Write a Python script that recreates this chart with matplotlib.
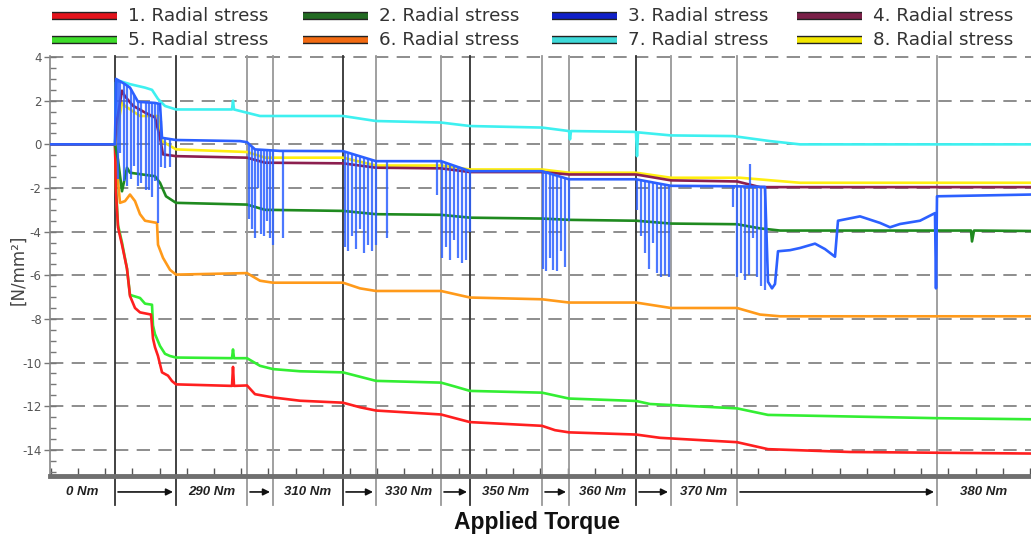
import numpy as np
import matplotlib
matplotlib.use("Agg")
import matplotlib.pyplot as plt
import matplotlib.patheffects as pe
from matplotlib.lines import Line2D
from matplotlib.ticker import MultipleLocator
from matplotlib.transforms import blended_transform_factory

plt.rcParams["axes.unicode_minus"] = False

# time axis (samples)
t_red = [0, 65, 66, 68, 72, 77, 80, 85, 90, 101, 103, 105, 108, 112, 118, 122, 126, 182, 183, 184,
         197, 205, 223, 250, 293, 310, 326, 391, 405, 420, 492, 505, 519, 586, 610, 687, 718, 800, 981]
v_red = [0, 0, -2.2, -3.8, -4.6, -5.7, -6.95, -7.5, -7.7, -7.8, -8.9, -9.3, -9.7, -10.45, -10.6, -10.85,
         -11.0, -11.07, -10.2, -11.07, -11.05, -11.45, -11.6, -11.75, -11.84, -12.05, -12.2, -12.38,
         -12.55, -12.73, -12.9, -13.1, -13.2, -13.3, -13.45, -13.65, -13.97, -14.1, -14.17]

t_green = [0, 65, 66, 68, 72, 77, 80, 90, 95, 102, 103, 105, 110, 115, 120, 126, 182, 183, 184, 197,
           210, 223, 250, 293, 326, 391, 405, 420, 492, 519, 586, 600, 687, 718, 887, 981]
v_green = [0, 0, -2.0, -3.7, -4.5, -5.7, -6.9, -7.04, -7.3, -7.35, -8.3, -8.7, -9.24, -9.6, -9.7, -9.77,
           -9.8, -9.4, -9.8, -9.8, -10.15, -10.3, -10.4, -10.45, -10.84, -10.92, -11.1, -11.3, -11.38,
           -11.65, -11.76, -11.9, -12.1, -12.4, -12.55, -12.6]

t_orange = [0, 65, 67, 70, 75, 80, 85, 90, 95, 107, 108, 113, 120, 126, 197, 210, 223, 293, 310, 326,
            391, 420, 492, 519, 586, 621, 687, 710, 730, 981]
v_orange = [0, 0, -1.15, -2.68, -2.6, -2.3, -2.6, -3.2, -3.5, -3.6, -4.6, -5.2, -5.75, -5.97, -5.9,
            -6.25, -6.34, -6.34, -6.6, -6.72, -6.72, -7.02, -7.1, -7.25, -7.25, -7.5, -7.5, -7.8,
            -7.88, -7.88]

t_dgreen = [0, 65, 68, 72, 77, 80, 105, 110, 116, 126, 197, 215, 293, 326, 391, 420, 492, 519, 586,
            621, 687, 710, 730, 921, 922, 924, 981]
v_dgreen = [0, 0, -0.7, -2.15, -1.07, -1.3, -1.46, -1.76, -2.38, -2.68, -2.76, -3.0, -3.05, -3.2,
            -3.23, -3.36, -3.4, -3.46, -3.5, -3.63, -3.66, -3.85, -3.95, -3.95, -4.45, -3.95, -3.97]

t_cyan = [0, 65, 66, 70, 80, 95, 102, 108, 115, 126, 182, 183, 184, 197, 210, 293, 326, 391, 420,
          492, 519, 520, 521, 586, 587, 588, 621, 683, 720, 750, 981]
v_cyan = [0, 0, 2.84, 2.9, 2.76, 2.6, 2.5, 2.08, 1.76, 1.6, 1.6, 2.0, 1.6, 1.45, 1.3, 1.3, 1.07, 1.0,
          0.84, 0.77, 0.61, 0.23, 0.61, 0.57, -0.54, 0.55, 0.41, 0.38, 0.15, 0.0, 0.0]

t_blue = [0, 65, 66, 75, 80, 88, 105, 110, 112, 126, 190, 197, 205, 230, 293, 326, 391, 420, 492,
          519, 586, 621, 684, 715, 718, 722, 725, 728, 740, 750, 765, 775, 785, 788, 810, 820, 830,
          840, 850, 870, 885, 886, 887, 981]
v_blue = [0, 0, 3.0, 2.76, 2.6, 1.95, 1.9, 1.85, 0.3, 0.2, 0.15, 0.1, -0.23, -0.3, -0.31, -0.77,
          -0.77, -1.23, -1.23, -1.6, -1.6, -1.9, -1.92, -1.95, -6.3, -6.6, -6.4, -4.9, -4.85, -4.75,
          -4.55, -4.8, -5.15, -3.5, -3.3, -3.45, -3.6, -3.8, -3.65, -3.5, -3.15, -6.6, -2.38, -2.3]

t_purple = [0, 65, 66, 72, 75, 83, 95, 105, 110, 113, 126, 197, 215, 293, 326, 391, 420, 492, 519,
            586, 621, 687, 710, 981]
v_purple = [0, 0, 0.84, 2.46, 2.2, 1.77, 1.46, 1.23, 0.3, -0.46, -0.54, -0.61, -0.84, -0.87, -1.07,
            -1.1, -1.27, -1.27, -1.38, -1.38, -1.65, -1.7, -1.96, -1.96]

t_yellow = [0, 65, 68, 72, 75, 90, 108, 112, 126, 197, 215, 293, 326, 391, 420, 492, 519, 586, 621,
            690, 750, 981]
v_yellow = [0, 0, 0.9, 1.9, 1.76, 1.3, 1.3, 0.15, -0.23, -0.35, -0.61, -0.61, -0.97, -0.97, -1.15,
            -1.15, -1.3, -1.3, -1.53, -1.53, -1.76, -1.76]

# blue sensor dropouts (time, lowest value)
spike_t = [68, 70, 74, 77, 81, 84, 88, 91, 96, 99, 102, 105, 108, 111, 115, 120,
           199, 202, 205, 208, 211, 214, 217, 220, 223, 233,
           295, 298, 302, 306, 310, 314, 318, 322, 326, 337,
           387, 392, 396, 400, 404, 408, 412, 416, 420,
           493, 496, 500, 503, 507, 511, 515, 519,
           587, 591, 595, 599, 603, 607, 611, 615, 619,
           683, 687, 691, 695, 699, 700, 703, 707, 711, 715]
spike_v = [-1.6, -0.4, -1.7, -1.9, -1.6, -1.0, -1.9, -1.75, -2.1, -2.07, -2.4, -1.7, -3.6, -1.05, -1.1, -1.05,
           -3.4, -3.9, -4.3, -2.0, -4.1, -4.2, -3.5, -4.3, -4.6, -4.3,
           -4.7, -4.9, -4.2, -4.8, -3.9, -5.0, -4.6, -4.9, -4.6, -4.3,
           -2.3, -5.2, -4.7, -5.3, -4.4, -5.2, -5.45, -5.3, -4.0,
           -5.7, -5.8, -5.2, -5.75, -5.8, -4.9, -5.6, -3.5,
           -3.0, -4.2, -5.0, -5.7, -4.5, -5.9, -6.1, -6.0, -6.1,
           -2.85, -6.1, -5.9, -6.2, -6.0, -0.9, -4.3, -6.1, -6.5, -6.67]

# torque steps
step_edges = [65, 126, 197, 223, 293, 326, 391, 420, 492, 519, 586, 621, 687, 887]
dark_edges = [65, 126, 293, 420, 586]
torque_labels = ["0 Nm", "290 Nm", "310 Nm", "330 Nm", "350 Nm", "360 Nm", "370 Nm", "380 Nm"]

series = [
    ("1. Radial stress", t_red, v_red, "#ff1f1f", "#e3141c"),
    ("2. Radial stress", t_dgreen, v_dgreen, "#1f8a1f", "#226b22"),
    ("3. Radial stress", t_blue, v_blue, "#2c60ff", "#1020c8"),
    ("4. Radial stress", t_purple, v_purple, "#8c1f4f", "#7a2048"),
    ("5. Radial stress", t_green, v_green, "#33ee33", "#3ddc2a"),
    ("6. Radial stress", t_orange, v_orange, "#ff9a1a", "#f26a12"),
    ("7. Radial stress", t_cyan, v_cyan, "#3ef0f0", "#3ed9d9"),
    ("8. Radial stress", t_yellow, v_yellow, "#ffee10", "#f2e600"),
]

fig = plt.figure(figsize=(10.31, 5.39), dpi=100)
ax = fig.add_axes([50 / 1031, 1 - 476 / 539, 981 / 1031, 420 / 539])
ax.set_xlim(0, 981)
ax.set_ylim(-15.2, 4.05)

# grid
for g in range(-14, 5, 2):
    ax.axhline(g, color="#7a7a7a", lw=1.2, linestyle=(0, (8, 5)), zorder=1)

# step separators, extended into the torque band
trans = blended_transform_factory(ax.transData, ax.transAxes)
for e in step_edges:
    col = "#333333" if e in dark_edges else "#999999"
    ax.plot([e, e], [-0.07, 1], color=col, lw=1.3, transform=trans, clip_on=False, zorder=2)

# data lines
draw_order = [5, 4, 0, 1, 6, 7, 3, 2]
for i in draw_order:
    name, t, v, c, _ = series[i]
    ax.plot(t, v, color=c, lw=1.9, zorder=3)

base = np.interp(spike_t, t_blue, v_blue)
ax.vlines(spike_t, base, spike_v, color="#2c60ff", lw=1.6, alpha=0.85, zorder=4)

# torque band labels and arrows
bounds = [0] + step_edges + [981]
for k in range(len(bounds) - 1):
    a, b = bounds[k], bounds[k + 1]
    if k % 2 == 0:
        ax.text((a + b) / 2, -0.038, torque_labels[k // 2], transform=trans, ha="center", va="center",
                fontsize=9.5, fontstyle="italic", fontweight="bold", family="Liberation Sans", color="#222")
    else:
        ax.annotate("", xy=(b - 3, -0.038), xytext=(a + 3, -0.038), xycoords=trans, textcoords=trans,
                    arrowprops=dict(arrowstyle="-|>", color="#111", lw=1.2, mutation_scale=10,
                                    shrinkA=0, shrinkB=0), annotation_clip=False)

# axes styling
for s in ["top", "right"]:
    ax.spines[s].set_visible(False)
ax.spines["left"].set_color("#888888")
ax.spines["left"].set_linewidth(1.2)
ax.spines["bottom"].set_color("#6f6f6f")
ax.spines["bottom"].set_linewidth(3.5)
ax.set_yticks(range(-14, 5, 2))
ax.yaxis.set_minor_locator(MultipleLocator(0.5))
ax.tick_params(axis="y", which="major", direction="inout", length=8, width=1, color="#777",
               labelsize=8.5, labelcolor="#555", pad=2)
ax.tick_params(axis="y", which="minor", direction="in", length=4, width=1, color="#777")
ax.xaxis.set_major_locator(MultipleLocator(27.2, offset=28))
ax.tick_params(axis="x", which="major", direction="in", length=6, width=1, color="#555",
               labelbottom=False)

fig.text(18 / 1031, 0.5, "[N/mm²]", rotation=90, ha="center", va="center", fontsize=12, color="#444")
fig.text(537 / 1031, 1 - 523 / 539, "Applied Torque", ha="center", va="center", fontsize=16.5,
         fontweight="bold", family="Liberation Sans", color="#111")

# legend, 4 columns x 2 rows
col_x = [52, 303, 552, 797]
row_y = [16, 40]
for i, (name, t, v, c, hc) in enumerate(series):
    cx = col_x[i % 4]
    ry = row_y[i // 4]
    y = 1 - ry / 539
    fig.add_artist(Line2D([cx / 1031, (cx + 65) / 1031], [y, y], transform=fig.transFigure, lw=4,
                          color=hc, solid_capstyle="butt",
                          path_effects=[pe.Stroke(linewidth=6, foreground="#222"), pe.Normal()]))
    fig.text((cx + 76) / 1031, y, name, ha="left", va="center", fontsize=13.2, color="#333")

fig.savefig("out.png", dpi=100)
